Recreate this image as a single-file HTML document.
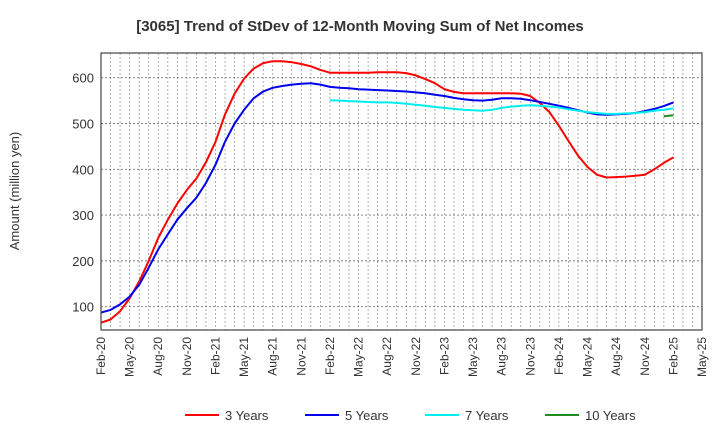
<!DOCTYPE html>
<html><head><meta charset="utf-8"><style>
body{margin:0;background:#fff;font-family:"Liberation Sans",sans-serif}
svg text{font-family:"Liberation Sans",sans-serif;fill:#333}
</style></head><body>
<svg id="chart" width="720" height="440" xmlns="http://www.w3.org/2000/svg">
<text x="360" y="31" text-anchor="middle" font-size="15" font-weight="bold">[3065]  Trend of StDev of 12-Month Moving Sum of Net Incomes</text>
<text transform="translate(19,191) rotate(-90)" text-anchor="middle" font-size="13">Amount (million yen)</text>
<g id="grid"></g><g id="series"></g><g id="axes"></g>
<rect x="101" y="53" width="601" height="277" fill="none" stroke="#444" stroke-width="1.2"/>
<g id="legend"></g>
</svg>
<script>
const xLabels=["Feb-20","May-20","Aug-20","Nov-20","Feb-21","May-21","Aug-21","Nov-21","Feb-22","May-22","Aug-22","Nov-22","Feb-23","May-23","Aug-23","Nov-23","Feb-24","May-24","Aug-24","Nov-24","Feb-25","May-25"];
const yTicks=[100,200,300,400,500,600];
const s3=[65,72,90,118,155,200,250,290,325,355,380,415,460,520,565,598,620,632,636,636,634,630,625,617,611,611,611,611,611,612,612,612,610,605,597,588,575,569,566,566,566,566,566,566,565,560,545,525,495,462,430,405,388,382,383,384,386,388,400,414,426];
const s5=[87,93,105,122,148,185,225,258,290,315,338,370,410,460,500,530,555,570,578,582,585,587,588,585,580,578,577,575,574,573,572,571,570,568,566,563,560,556,553,551,550,552,555,555,554,551,547,543,539,534,529,524,520,519,520,521,523,527,532,538,546];
const s7=[null,null,null,null,null,null,null,null,null,null,null,null,null,null,null,null,null,null,null,null,null,null,null,null,551,550,549,548,547,546,546,545,543,541,539,536,534,532,530,529,528,530,534,537,539,540,539,537,535,531,528,525,523,521,521,522,523,525,528,530,533];
const s10=[null,null,null,null,null,null,null,null,null,null,null,null,null,null,null,null,null,null,null,null,null,null,null,null,null,null,null,null,null,null,null,null,null,null,null,null,null,null,null,null,null,null,null,null,null,null,null,null,null,null,null,null,null,null,null,null,null,null,null,516,518];
const seriesNames=["3 Years","5 Years","7 Years","10 Years"];
const X0=101,X1=702,Y0=330,Y1=53,YMIN=49,YMAX=654,NM=63;
const xs=m=>X0+(X1-X0)*m/NM, ys=v=>Y0-(v-YMIN)/(YMAX-YMIN)*(Y0-Y1);
const NS="http://www.w3.org/2000/svg";
function mk(t,a,p){const e=document.createElementNS(NS,t);for(const k in a)e.setAttribute(k,a[k]);p.appendChild(e);return e;}
const grid=document.getElementById('grid'),axes=document.getElementById('axes'),ser=document.getElementById('series'),leg=document.getElementById('legend');
for(let m=1;m<NM;m++){const l=mk('line',{x1:xs(m),x2:xs(m),y1:Y1,y2:Y0,stroke:'#999','stroke-dasharray':'2,2','stroke-width':0.8},grid);

}
yTicks.forEach(v=>{const l=mk('line',{x1:X0,x2:X1,y1:ys(v),y2:ys(v),stroke:'#777','stroke-dasharray':'2,2','stroke-width':0.9},grid);


const t=mk('text',{x:X0-7,y:ys(v)+5,'text-anchor':'end','font-size':13},axes);t.textContent=v;

});
xLabels.forEach((s,i)=>{const x=xs(i*3);const t=mk('text',{transform:`translate(${x+4},337) rotate(-90)`,'text-anchor':'end','font-size':12},axes);t.textContent=s;

});
const cols=["#ff0000","#0000ee","#00eeee","#228b22"];
[s3,s5,s7,s10].forEach((arr,k)=>{let d='';arr.forEach((v,m)=>{if(v==null)return;d+=(d?'L':'M')+xs(m).toFixed(1)+','+ys(v).toFixed(1);});
const p=mk('path',{d:d,fill:'none',stroke:cols[k],'stroke-width':2,'stroke-linejoin':'round'},ser);


const lx=[185,305,425,545][k];
const g=mk('g',{},leg);


mk('line',{x1:lx,x2:lx+34,y1:415,y2:415,stroke:cols[k],'stroke-width':2},g);
const t=mk('text',{x:lx+40,y:420,'font-size':13},g);t.textContent=seriesNames[k];});
</script>
</body></html>
